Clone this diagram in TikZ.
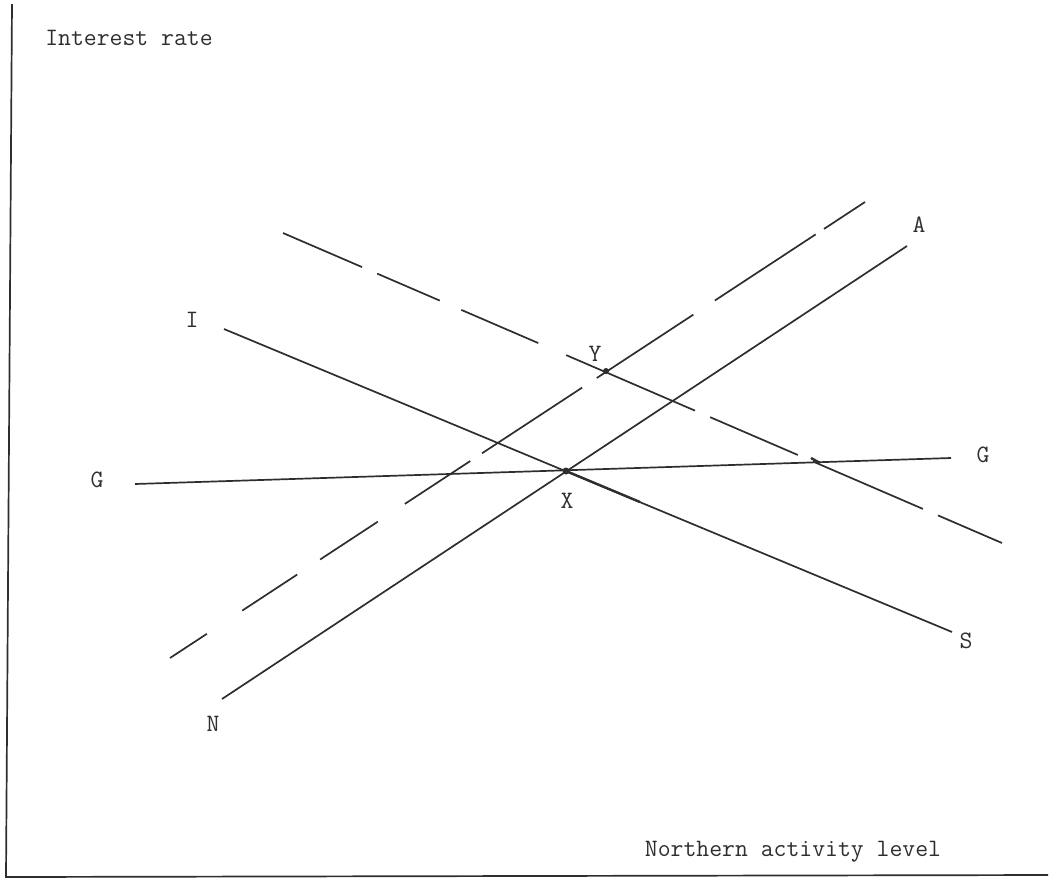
\documentclass[tikz,border=0pt]{standalone}
\usetikzlibrary{calc}
\definecolor{ink}{HTML}{2E2E2E}
\begin{document}
\begin{tikzpicture}[x=1pt,y=-1pt,
  curve/.style={draw=ink,line width=1.7pt},
  axis/.style={draw=ink,line width=1.7pt},
  lbl/.style={text=ink,inner sep=0pt,font=\fontsize{25}{28}\selectfont\ttfamily},
  dot/.style={circle,fill=ink,inner sep=0pt,minimum size=7pt}]
\useasboundingbox (0,0) rectangle (1060,879);
% axes
\coordinate (top) at (12,4);
\coordinate (orig) at (6,877);
\coordinate (right) at (1048,875);
\draw[axis] (top) -- (orig) -- (right);
\node[lbl] (yl) at (129,38) {Interest rate};
\node[lbl] (xl) at (793,852) {Northern activity level};
% N--A solid
\coordinate (n0) at (222,699);
\coordinate (a0) at (907,246);
\draw[curve] (n0) -- (a0);
% I--S solid
\coordinate (i0) at (224,329);
\coordinate (s0) at (952,632);
\draw[curve] (i0) -- (s0);
% G--G
\coordinate (g0) at (135,484);
\coordinate (g1) at (951,458);
\draw[curve] (g0) -- (g1);
% thicker piece of I line after X
\draw[curve,line width=2.4pt] (566,471) -- (640,502);
% dashed A'
\coordinate (da0) at (170,658);
\coordinate (da1) at (865,202);
\foreach \s/\e in {0/0.053,0.104/0.183,0.216/0.299,0.338/0.432,0.449/0.593,0.614/0.753,0.784/0.929,0.941/1}
  \draw[curve] ($(da0)!\s!(da1)$) -- ($(da0)!\e!(da1)$);
% dashed I'
\coordinate (di0) at (283,233);
\coordinate (di1) at (1002,543);
\foreach \s/\e in {0/0.110,0.131/0.218,0.248/0.355,0.394/0.573,0.594/0.716,0.737/0.890,0.911/1}
  \draw[curve] ($(di0)!\s!(di1)$) -- ($(di0)!\e!(di1)$);
% points
\node[dot] (X) at (566,471) {};
\node[dot,minimum size=6pt] (Y) at (606,371) {};
\draw[curve,line width=2.4pt] (811,458) -- (820,463);
% labels
\node[lbl] (lA) at (919,225) {A};
\node[lbl] (lI) at (192,320) {I};
\node[lbl] (lG1) at (97,480) {G};
\node[lbl] (lG2) at (983,455) {G};
\node[lbl] (lY) at (595,354) {Y};
\node[lbl] (lX) at (567,501) {X};
\node[lbl] (lS) at (966,641) {S};
\node[lbl] (lN) at (213,724) {N};
\end{tikzpicture}
\end{document}
